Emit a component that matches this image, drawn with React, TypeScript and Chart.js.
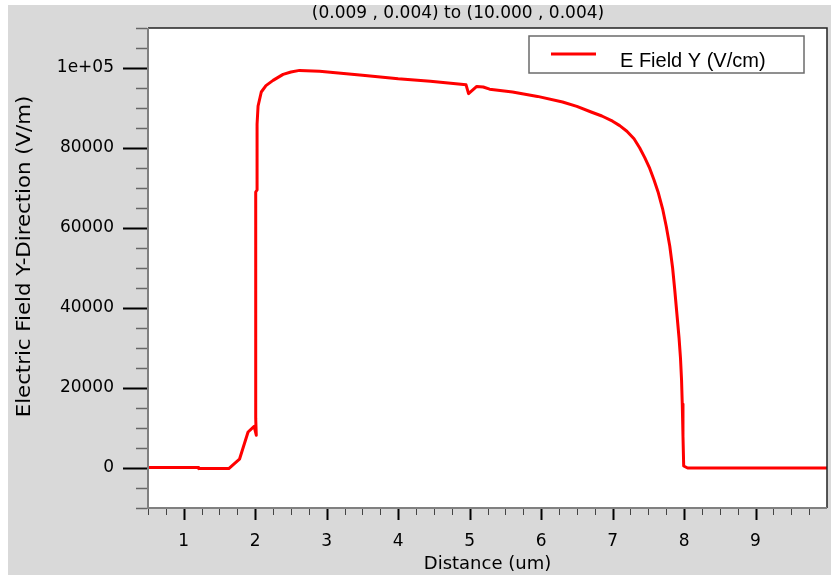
import { useEffect, useRef } from 'react';
import { Chart, registerables } from 'chart.js';

Chart.register(...registerables);

// Cut-line profile of the vertical electric field component
const distance = [
  0.5, 1.2, 1.21, 1.63, 1.78, 1.9, 1.985, 2.015, 2.007, 2.007, 2.026, 2.026,
  2.04, 2.085, 2.15, 2.25, 2.39, 2.5, 2.62, 2.9, 3.2, 3.5, 4.0, 4.45, 4.95,
  4.985, 5.1, 5.19, 5.28, 5.6, 5.95, 6.3, 6.5, 6.7, 6.85, 7.0, 7.1, 7.2, 7.3,
  7.38, 7.45, 7.52, 7.58, 7.64, 7.7, 7.75, 7.8, 7.84, 7.87, 7.9, 7.93, 7.95,
  7.965, 7.975, 7.985, 7.995, 8.05, 10.0,
];
const fieldY = [
  100, 100, -150, -150, 2200, 9000, 10400, 8200, 12400, 69000, 69500, 86000,
  90500, 94000, 95600, 96900, 98400, 99000, 99400, 99200, 98700, 98200, 97300, 96700, 95800,
  93600, 95400, 95250, 94700, 94000, 92900, 91500, 90400, 89000, 88000, 86700, 85600, 84200, 82300,
  80000, 77600, 74900, 72000, 68800, 64800, 60500, 55500, 50000, 44500, 38500, 32500, 27500,
  22000, 16000, 8000, 500, 0, 0,
];

const xTickValues = [1, 2, 3, 4, 5, 6, 7, 8, 9];
const yTickValues = [0, 20000, 40000, 60000, 80000, 100000];

const plotTitle = '(0.009 , 0.004) to (10.000 , 0.004)';
const seriesLabel = 'E Field Y (V/cm)';
const xAxisTitle = 'Distance (um)';
const yAxisTitle = 'Electric Field Y-Direction (V/m)';

const X_MIN = 0.5;
const X_MAX = 10;
const Y_MIN = -10000;
const Y_MAX = 110000;

const FONT = '"DejaVu Sans", sans-serif';
const LEGEND_FONT = '"Liberation Sans", Arial, sans-serif';
const BG = '#d9d9d9';
const RED = '#ff0000';

const framePlugin = {
  id: 'frame',
  beforeDraw(chart: any) {
    const { ctx, width, height, chartArea: a } = chart;
    ctx.save();
    ctx.fillStyle = BG;
    ctx.fillRect(0, 0, width, height);
    ctx.fillStyle = '#ffffff';
    ctx.fillRect(a.left, a.top, a.right - a.left, a.bottom - a.top);
    ctx.restore();
  },
  afterDraw(chart: any) {
    const { ctx, chartArea: a, scales } = chart;
    const xs = scales.x;
    const ys = scales.y;
    ctx.save();

    // top and right frame
    ctx.strokeStyle = '#222222';
    ctx.lineWidth = 1.5;
    ctx.beginPath();
    ctx.moveTo(a.left, a.top);
    ctx.lineTo(a.right, a.top);
    ctx.lineTo(a.right, a.bottom);
    ctx.stroke();

    // axis lines
    ctx.strokeStyle = '#808080';
    ctx.lineWidth = 2;
    ctx.beginPath();
    ctx.moveTo(a.left, a.top);
    ctx.lineTo(a.left, a.bottom);
    ctx.lineTo(a.right, a.bottom);
    ctx.stroke();

    // y ticks: major every 20000, minor every 5000
    for (let v = Y_MIN; v <= Y_MAX; v += 5000) {
      const py = Math.round(ys.getPixelForValue(v)) + 0.5;
      const major = yTickValues.includes(v);
      ctx.strokeStyle = major ? '#000000' : '#666666';
      ctx.lineWidth = major ? 2 : 1.5;
      ctx.beginPath();
      ctx.moveTo(a.left - (major ? 25 : 12), py);
      ctx.lineTo(a.left - 1, py);
      ctx.stroke();
    }

    // x ticks: major every 1, minor every 0.25
    for (let i = 0; X_MIN + i * 0.25 <= X_MAX - 0.2; i++) {
      const v = X_MIN + i * 0.25;
      const px = Math.round(xs.getPixelForValue(v)) + 0.5;
      const major = xTickValues.includes(v);
      ctx.strokeStyle = major ? '#000000' : '#444444';
      ctx.lineWidth = major ? 2 : 1;
      ctx.beginPath();
      ctx.moveTo(px, a.bottom + 1);
      ctx.lineTo(px, a.bottom + (major ? 12 : 7));
      ctx.stroke();
    }

    // legend
    ctx.fillStyle = '#ffffff';
    ctx.fillRect(521, 31, 275, 37);
    ctx.strokeStyle = '#6b6b6b';
    ctx.lineWidth = 1.5;
    ctx.strokeRect(521, 31, 275, 37);
    ctx.strokeStyle = RED;
    ctx.lineWidth = 3;
    ctx.beginPath();
    ctx.moveTo(543, 49);
    ctx.lineTo(588, 49);
    ctx.stroke();
    ctx.fillStyle = '#000000';
    ctx.font = `20px ${LEGEND_FONT}`;
    ctx.textAlign = 'left';
    ctx.textBaseline = 'alphabetic';
    ctx.fillText(seriesLabel, 612, 61.5);

    // plot title
    ctx.font = `17px ${FONT}`;
    ctx.textAlign = 'center';
    ctx.textBaseline = 'middle';
    ctx.fillText(plotTitle, 450, 9);

    // y axis title, drawn a little long along its run
    ctx.translate(17, 251.5);
    ctx.rotate(-Math.PI / 2);
    ctx.scale(1.12, 1);
    ctx.font = `19px ${FONT}`;
    ctx.fillText(yAxisTitle, 0, 0);

    ctx.restore();
  },
};

export default function App() {
  const canvasRef = useRef<HTMLCanvasElement | null>(null);

  useEffect(() => {
    const canvas = canvasRef.current;
    if (!canvas) return;
    const points = distance.map((x, i) => ({ x, y: fieldY[i] }));
    const chart = new Chart(canvas, {
      type: 'line',
      data: {
        datasets: [
          {
            label: seriesLabel,
            data: points,
            borderColor: RED,
            backgroundColor: RED,
            borderWidth: 3,
            pointRadius: 0,
            tension: 0,
            borderJoinStyle: 'round',
            fill: false,
          },
        ],
      },
      options: {
        responsive: false,
        animation: false,
        devicePixelRatio: 1,
        layout: { padding: { left: 0, right: 4, top: 23, bottom: 0 } },
        plugins: {
          legend: { display: false },
          title: { display: false },
          tooltip: { enabled: false },
        },
        scales: {
          x: {
            type: 'linear',
            min: X_MIN,
            max: X_MAX,
            afterBuildTicks: (s: any) => {
              s.ticks = xTickValues.map((value) => ({ value }));
            },
            afterFit: (s: any) => {
              s.height = 67;
              s.paddingLeft = 0;
              s.paddingRight = 0;
              s.paddingTop = 0;
              s.paddingBottom = 0;
            },
            grid: { display: false, drawTicks: false },
            border: { display: false },
            ticks: {
              padding: 23,
              color: '#000000',
              font: { family: FONT, size: 17 },
              maxRotation: 0,
              autoSkip: false,
              callback: (v: any) => String(v),
            },
            title: {
              display: true,
              text: xAxisTitle,
              color: '#000000',
              font: { family: FONT, size: 18 },
              padding: { top: 0, bottom: 0 },
            },
          },
          y: {
            type: 'linear',
            min: Y_MIN,
            max: Y_MAX,
            afterBuildTicks: (s: any) => {
              s.ticks = yTickValues.map((value) => ({ value }));
            },
            afterFit: (s: any) => {
              s.width = 140;
              s.paddingTop = 0;
              s.paddingBottom = 0;
              s.paddingLeft = 0;
              s.paddingRight = 0;
            },
            grid: { display: false, drawTicks: false },
            border: { display: false },
            ticks: {
              padding: 34,
              color: '#000000',
              font: { family: FONT, size: 17 },
              callback: (v: any) => (v === 100000 ? '1e+05' : String(v)),
            },
          },
        },
      },
      plugins: [framePlugin],
    } as any);
    return () => chart.destroy();
  }, []);

  return (
    <div style={{ position: 'absolute', left: 8, top: 5, width: 823, height: 570, overflow: 'hidden' }}>
      <canvas ref={canvasRef} width={823} height={570} style={{ width: 823, height: 570, display: 'block' }} />
    </div>
  );
}
